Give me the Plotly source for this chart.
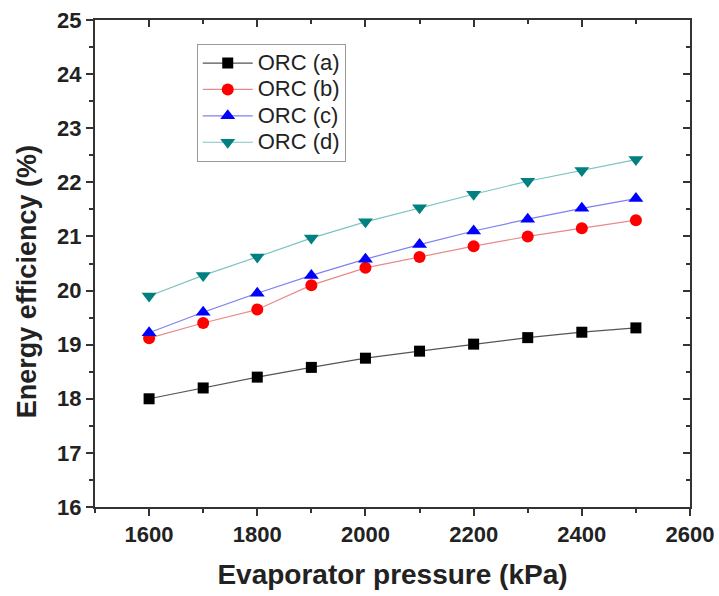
import plotly.graph_objects as go

pressure = [1600, 1700, 1800, 1900, 2000, 2100, 2200, 2300, 2400, 2500]
orc_a = [18.0, 18.2, 18.4, 18.58, 18.75, 18.88, 19.01, 19.13, 19.23, 19.31]
orc_b = [19.12, 19.4, 19.65, 20.1, 20.42, 20.62, 20.82, 21.0, 21.15, 21.3]
orc_c = [19.22, 19.6, 19.95, 20.28, 20.58, 20.85, 21.1, 21.32, 21.52, 21.7]
orc_d = [19.9, 20.28, 20.62, 20.97, 21.27, 21.53, 21.78, 22.02, 22.22, 22.42]
names = ["ORC (a)", "ORC (b)", "ORC (c)", "ORC (d)"]

series = [
    (names[0], orc_a, "#000000", "#555555", "square", 11),
    (names[1], orc_b, "#ff0000", "#e88a8a", "circle", 12),
    (names[2], orc_c, "#0000ff", "#8080f0", "triangle-up", 13),
    (names[3], orc_d, "#008080", "#7cc4c0", "triangle-down", 13),
]

fig = go.Figure()
for name, vals, mc, lc, sym, sz in series:
    fig.add_trace(go.Scatter(
        x=pressure, y=vals, name="<span style='font-size:22px'>" + name + "</span>",
        mode="lines+markers",
        line=dict(color=lc, width=1.2),
        marker=dict(color=mc, symbol=sym, size=sz, line=dict(width=0)),
    ))

# invisible trace to activate mirrored top/right axes
fig.add_trace(go.Scatter(x=pressure, y=orc_a, xaxis="x2", yaxis="y2",
                         mode="markers", marker=dict(opacity=0),
                         showlegend=False, hoverinfo="skip"))

FF = "Liberation Sans, Arial, sans-serif"
font_ticks = dict(family=FF, size=22, color="#222222")
axis_common = dict(showline=True, linecolor="#333333", linewidth=2, showgrid=False,
                   zeroline=False, ticklen=7, tickwidth=2, tickcolor="#333333",
                   automargin=False)

fig.update_layout(
    width=719, height=596,
    margin=dict(l=95, r=29, t=20, b=89),
    paper_bgcolor="white", plot_bgcolor="white",
    xaxis=dict(range=[1500, 2600], dtick=200, tick0=1600, ticks="outside",
               tickfont=font_ticks, tickprefix="<b>", ticksuffix="</b>",
               ticklabeloverflow="allow",
               minor=dict(dtick=100, tick0=1500, ticks="outside", ticklen=4, tickwidth=2, tickcolor="#333333"),
               title=dict(text="<b>Evaporator pressure (kPa)</b>",
                          font=dict(family=FF, size=28, color="#222222"),
                          standoff=18),
               **axis_common),
    yaxis=dict(range=[16, 25], dtick=1, ticks="outside",
               tickfont=font_ticks, tickprefix="<b>", ticksuffix="</b>",
               ticklabeloverflow="allow",
               minor=dict(dtick=0.5, ticks="outside", ticklen=4, tickwidth=2, tickcolor="#333333"),
               **axis_common),
    xaxis2=dict(overlaying="x", side="top", range=[1500, 2600], dtick=200, tick0=1600,
                ticks="inside", showticklabels=False, anchor="y",
                minor=dict(dtick=100, tick0=1500, ticks="inside", ticklen=4, tickwidth=2, tickcolor="#333333"),
                **axis_common),
    yaxis2=dict(overlaying="y", side="right", range=[16, 25], dtick=1,
                ticks="inside", showticklabels=False, anchor="x",
                minor=dict(dtick=0.5, ticks="inside", ticklen=4, tickwidth=2, tickcolor="#333333"),
                **axis_common),
    legend=dict(x=0.171, y=0.951, xanchor="left", yanchor="top",
                bordercolor="#999999", borderwidth=1, bgcolor="white",
                font=dict(family=FF, size=18, color="#222222"),
                tracegroupgap=0, itemwidth=50),
    showlegend=True,
    annotations=[dict(text="<b>Energy efficiency (%)</b>", xref="paper", yref="paper",
                      x=-0.114, y=0.462, xanchor="center", yanchor="middle",
                      textangle=-90, showarrow=False,
                      font=dict(family=FF, size=27, color="#222222"))],
)

fig.write_html("out.html",
               config={"displayModeBar": False},
               post_script="document.body.style.margin='0';document.body.style.overflow='hidden';")
